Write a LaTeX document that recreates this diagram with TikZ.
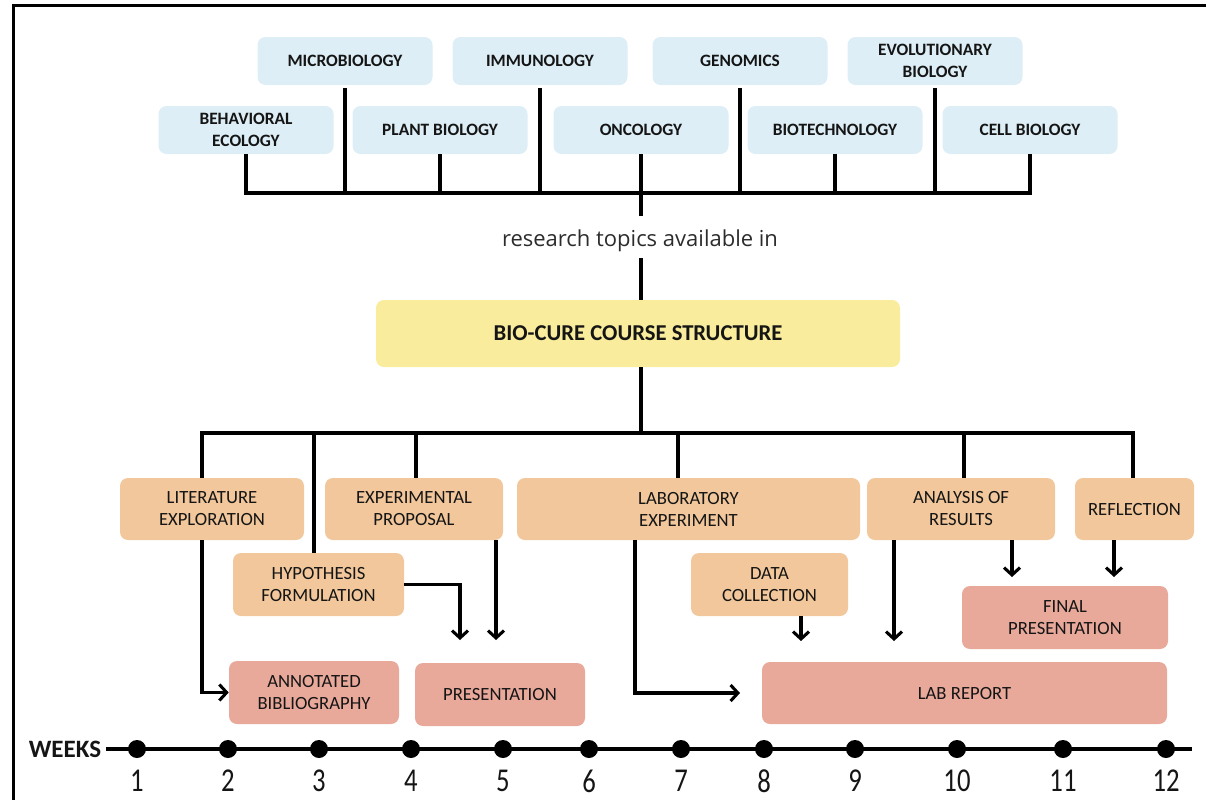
\documentclass[tikz,border=0pt]{standalone}
\usepackage{fontspec}
\usepackage{graphicx}
\setmainfont{Carlito}
\newfontfamily\topicfont{Open Sans}
\usetikzlibrary{arrows.meta}
\definecolor{topicblue}{HTML}{DDEEF6}
\definecolor{coreyellow}{HTML}{F9EC9C}
\definecolor{actpeach}{HTML}{F1C79B}
\definecolor{outpink}{HTML}{E8A99B}
\definecolor{ink}{HTML}{151515}
\tikzset{
  topicbox/.style={fill=topicblue, rounded corners=6pt, minimum width=131.25pt, minimum height=36pt,
    align=center, font=\bfseries\fontsize{13}{16.5}\selectfont, text=ink, inner sep=0pt},
  actbox/.style={fill=actpeach, rounded corners=6pt, align=center,
    font=\fontsize{14}{16.5}\selectfont, text=ink, inner sep=0pt},
  outbox/.style={actbox, fill=outpink},
  conn/.style={draw=black, line width=2.3pt},
  arr/.style={conn, -{Straight Barb[length=5.5pt,width=12pt]}},
  weekdot/.style={circle, fill=black, minimum width=12.5pt, minimum height=13.5pt, inner sep=0pt},
  weeknum/.style={font=\fontsize{25}{25}\selectfont, text=ink, inner sep=0pt}
}
\begin{document}
\begin{tikzpicture}[x=0.75pt,y=-0.75pt]
\useasboundingbox (0,0) rectangle (1206,800);
% frame
\draw[line width=2.25pt] (13,800) -- (13,5) -- (1206,5);

% research topics
\node[topicbox] (micro) at (345,61) {MICROBIOLOGY};
\node[topicbox] (immu)  at (540,61) {IMMUNOLOGY};
\node[topicbox] (geno)  at (740,61) {GENOMICS};
\node[topicbox] (evo)   at (935,61) {EVOLUTIONARY\\BIOLOGY};
\node[topicbox] (beh)   at (246,130) {BEHAVIORAL\\ECOLOGY};
\node[topicbox] (plant) at (440,130) {PLANT BIOLOGY};
\node[topicbox] (onco)  at (641,130) {ONCOLOGY};
\node[topicbox] (biot)  at (835,130) {BIOTECHNOLOGY};
\node[topicbox] (cell)  at (1030,130) {CELL BIOLOGY};

\coordinate (topbus) at (0,193);
\draw[conn] (beh.south) |- (cell.south |- topbus) -- (cell.south);
\draw[conn] ([yshift=-2pt]micro.south) -- (micro.south |- topbus);
\draw[conn] ([yshift=-2pt]immu.south) -- (immu.south |- topbus);
\draw[conn] ([yshift=-2pt]geno.south) -- (geno.south |- topbus);
\draw[conn] ([yshift=-2pt]evo.south) -- (evo.south |- topbus);
\draw[conn] (plant.south) -- (plant.south |- topbus);
\draw[conn] (biot.south) -- (biot.south |- topbus);

\node[font=\topicfont\fontsize{16.5}{18}\selectfont, text=ink!90] (avail) at (640,241) {research topics available in};
\coordinate (availtop) at (0,216);
\coordinate (availbot) at (0,258);
\draw[conn] (onco.south) -- (onco.south |- availtop);

\node[fill=coreyellow, rounded corners=6pt, minimum width=393pt, minimum height=50.25pt,
  font=\bfseries\fontsize{17}{20}\selectfont, text=ink, inner sep=0pt] (core) at (638,333.5) {BIO-CURE COURSE STRUCTURE};
\draw[conn] (onco.south |- availbot) -- (onco.south |- core.north);

% activities
\node[actbox, minimum width=138pt, minimum height=46.5pt] (lit) at (212,509) {LITERATURE\\EXPLORATION};
\node[actbox, minimum width=133.5pt, minimum height=46.5pt] (exp) at (414,509) {EXPERIMENTAL\\PROPOSAL};
\node[actbox, minimum width=257.25pt, minimum height=46.5pt] (lab) at (688.5,509) {LABORATORY\\EXPERIMENT};
\node[actbox, minimum width=141pt, minimum height=46.5pt] (ana) at (961,509) {ANALYSIS OF\\RESULTS};
\node[actbox, minimum width=89.25pt, minimum height=46.5pt] (refl) at (1134.5,509) {REFLECTION};
\node[actbox, minimum width=128.25pt, minimum height=47.25pt] (hyp) at (318.5,584.5) {HYPOTHESIS\\FORMULATION};
\node[actbox, minimum width=117.75pt, minimum height=47.25pt] (data) at (769.5,584.5) {DATA\\COLLECTION};

% outputs
\node[outbox, minimum width=154.5pt, minimum height=47.25pt] (final) at (1065,617.5) {FINAL\\PRESENTATION};
\node[outbox, minimum width=127.5pt, minimum height=47.25pt] (ann) at (314,692.5) {ANNOTATED\\BIBLIOGRAPHY};
\node[outbox, minimum width=127.5pt, minimum height=47.25pt] (pres) at (500,694.5) {PRESENTATION};
\node[outbox, minimum width=303.75pt, minimum height=46.5pt] (rep) at (964.5,693) {LAB REPORT};

% lower bus
\coordinate (lowbus) at (0,433);
\coordinate (xlit) at (202,0);
\coordinate (xhyp) at (314,0);
\coordinate (xexp) at (416,0);
\coordinate (xlab) at (678,0);
\coordinate (xana) at (964,0);
\coordinate (xref) at (1133,0);
\draw[conn] (core.south -| onco.south) -- (onco.south |- lowbus);
\draw[conn] (lit.north -| xlit) |- (xref |- lowbus) -- (refl.north -| xref);
\draw[conn] (xhyp |- lowbus) -- (hyp.north -| xhyp);
\draw[conn] (xexp |- lowbus) -- (exp.north -| xexp);
\draw[conn] (xlab |- lowbus) -- (lab.north -| xlab);
\draw[conn] (xana |- lowbus) -- (ana.north -| xana);

% arrows
\coordinate (litx) at (202,0);
\draw[arr] (lit.south -| litx) |- (ann.west);
\coordinate (hypend) at (460,640);
\draw[arr] (hyp.east) -| (hypend);
\coordinate (expx) at (496,0);
\coordinate (expend) at (496,640);
\draw[arr] (exp.south -| expx) -- (expend);
\coordinate (labx) at (635,0);
\coordinate (labend) at (740,693);
\draw[arr] (lab.south -| labx) |- (labend);
\coordinate (datax) at (801,0);
\coordinate (dataend) at (801,641);
\draw[arr] (data.south -| datax) -- (dataend);
\coordinate (anax) at (894,0);
\coordinate (anaend) at (894,641);
\draw[arr] (ana.south -| anax) -- (anaend);
\coordinate (anafx) at (1012,0);
\coordinate (anafend) at (1012,577);
\draw[arr] (ana.south -| anafx) -- (anafend);
\coordinate (refx) at (1114,0);
\coordinate (refend) at (1114,577);
\draw[arr] (refl.south -| refx) -- (refend);

% timeline
\node[font=\bfseries\fontsize{18.75}{20}\selectfont, text=ink, inner sep=0pt] (weeks) at (65,749) {WEEKS};
\coordinate (tlend) at (1192,749);
\draw[conn] (weeks.east) ++(5,0) -- (tlend);
\foreach \n/\x in {1/137,2/228,3/319,4/411,5/503,6/589,7/681,8/764,9/855,10/957,11/1063,12/1166}{
  \node[weekdot] (d\n) at (\x,749) {};
  \node[weeknum] (w\n) at (\x,781) {\scalebox{0.8}[1]{\n}};
}
\end{tikzpicture}
\end{document}
